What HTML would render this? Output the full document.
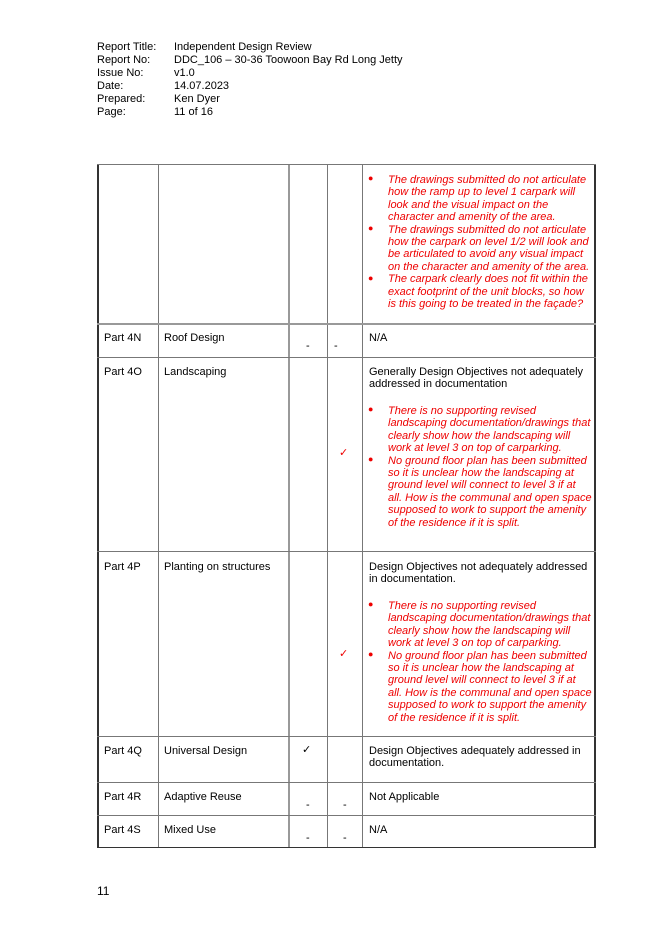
<!DOCTYPE html>
<html><head><meta charset="utf-8"><style>
body{margin:0;width:668px;height:946px;background:#fff;position:relative;font-family:"Liberation Sans",Arial,sans-serif;font-size:11px;color:#000;overflow:hidden}
.a{position:absolute;white-space:nowrap}
.h{left:0;height:1px;background:#777;position:absolute}
.v{top:164px;width:1px;height:684px;background:#777;position:absolute}
.r{color:#e00;font-style:italic;line-height:12.4px}
.b{position:absolute;color:#e00;font-size:9px}
.n{line-height:12.4px}
</style></head><body>
<div class="a" style="left:97px;top:41px;line-height:13px">Report Title:<br>Report No:<br>Issue No:<br>Date:<br>Prepared:<br>Page:</div>
<div class="a" style="left:174px;top:41px;line-height:13px">Independent Design Review<br>DDC_106 – 30-36 Toowoon Bay Rd Long Jetty<br>v1.0<br>14.07.2023<br>Ken Dyer<br>11 of 16</div>

<div class="v" style="left:97px;width:2px;background:#333"></div>
<div class="v" style="left:158px"></div>
<div class="v" style="left:288px;width:2px;background:#999"></div>
<div class="v" style="left:327px"></div>
<div class="v" style="left:362px"></div>
<div class="v" style="left:594px;width:2px;background:#333"></div>
<div class="h" style="left:97px;width:499px;top:164px"></div>
<div class="h" style="left:97px;width:499px;top:323px;height:2px;background:#999"></div>
<div class="h" style="left:97px;width:499px;top:357px"></div>
<div class="h" style="left:97px;width:499px;top:551px"></div>
<div class="h" style="left:97px;width:499px;top:736px"></div>
<div class="h" style="left:97px;width:499px;top:782px"></div>
<div class="h" style="left:97px;width:499px;top:815px"></div>
<div class="h" style="left:97px;width:499px;top:847px;background:#333"></div>

<div class="b" style="left:368px;top:173px">●</div>
<div class="b" style="left:368px;top:223px">●</div>
<div class="b" style="left:368px;top:273px">●</div>
<div class="a r" style="left:388px;top:174px">The drawings submitted do not articulate<br>how the ramp up to level 1 carpark will<br>look and the visual impact on the<br>character and amenity of the area.<br>The drawings submitted do not articulate<br>how the carpark on level 1/2 will look and<br>be articulated to avoid any visual impact<br>on the character and amenity of the area.<br>The carpark clearly does not fit within the<br>exact footprint of the unit blocks, so how<br>is this going to be treated in the façade?</div>

<div class="a" style="left:104px;top:332px">Part 4N</div>
<div class="a" style="left:164px;top:332px">Roof Design</div>
<div class="a" style="left:306px;top:340px">-</div>
<div class="a" style="left:334px;top:340px">-</div>
<div class="a" style="left:369px;top:332px">N/A</div>

<div class="a" style="left:104px;top:366px">Part 4O</div>
<div class="a" style="left:164px;top:366px">Landscaping</div>
<div class="a" style="left:339px;top:446px;color:#e00">✓</div>
<div class="a n" style="left:369px;top:366px">Generally Design Objectives not adequately<br>addressed in documentation</div>
<div class="b" style="left:368px;top:404px">●</div>
<div class="b" style="left:368px;top:454px">●</div>
<div class="a r" style="left:388px;top:405px">There is no supporting revised<br>landscaping documentation/drawings that<br>clearly show how the landscaping will<br>work at level 3 on top of carparking.<br>No ground floor plan has been submitted<br>so it is unclear how the landscaping at<br>ground level will connect to level 3 if at<br>all. How is the communal and open space<br>supposed to work to support the amenity<br>of the residence if it is split.</div>

<div class="a" style="left:104px;top:561px">Part 4P</div>
<div class="a" style="left:164px;top:561px">Planting on structures</div>
<div class="a" style="left:339px;top:647px;color:#e00">✓</div>
<div class="a n" style="left:369px;top:561px">Design Objectives not adequately addressed<br>in documentation.</div>
<div class="b" style="left:368px;top:599px">●</div>
<div class="b" style="left:368px;top:649px">●</div>
<div class="a r" style="left:388px;top:600px">There is no supporting revised<br>landscaping documentation/drawings that<br>clearly show how the landscaping will<br>work at level 3 on top of carparking.<br>No ground floor plan has been submitted<br>so it is unclear how the landscaping at<br>ground level will connect to level 3 if at<br>all. How is the communal and open space<br>supposed to work to support the amenity<br>of the residence if it is split.</div>

<div class="a" style="left:104px;top:745px">Part 4Q</div>
<div class="a" style="left:164px;top:745px">Universal Design</div>
<div class="a" style="left:302px;top:743px">✓</div>
<div class="a n" style="left:369px;top:745px">Design Objectives adequately addressed in<br>documentation.</div>

<div class="a" style="left:104px;top:791px">Part 4R</div>
<div class="a" style="left:164px;top:791px">Adaptive Reuse</div>
<div class="a" style="left:306px;top:799px">-</div>
<div class="a" style="left:343px;top:799px">-</div>
<div class="a" style="left:369px;top:791px">Not Applicable</div>

<div class="a" style="left:104px;top:824px">Part 4S</div>
<div class="a" style="left:164px;top:824px">Mixed Use</div>
<div class="a" style="left:306px;top:832px">-</div>
<div class="a" style="left:343px;top:832px">-</div>
<div class="a" style="left:369px;top:824px">N/A</div>

<div class="a" style="left:97px;top:884px;font-size:12px">11</div>
</body></html>
